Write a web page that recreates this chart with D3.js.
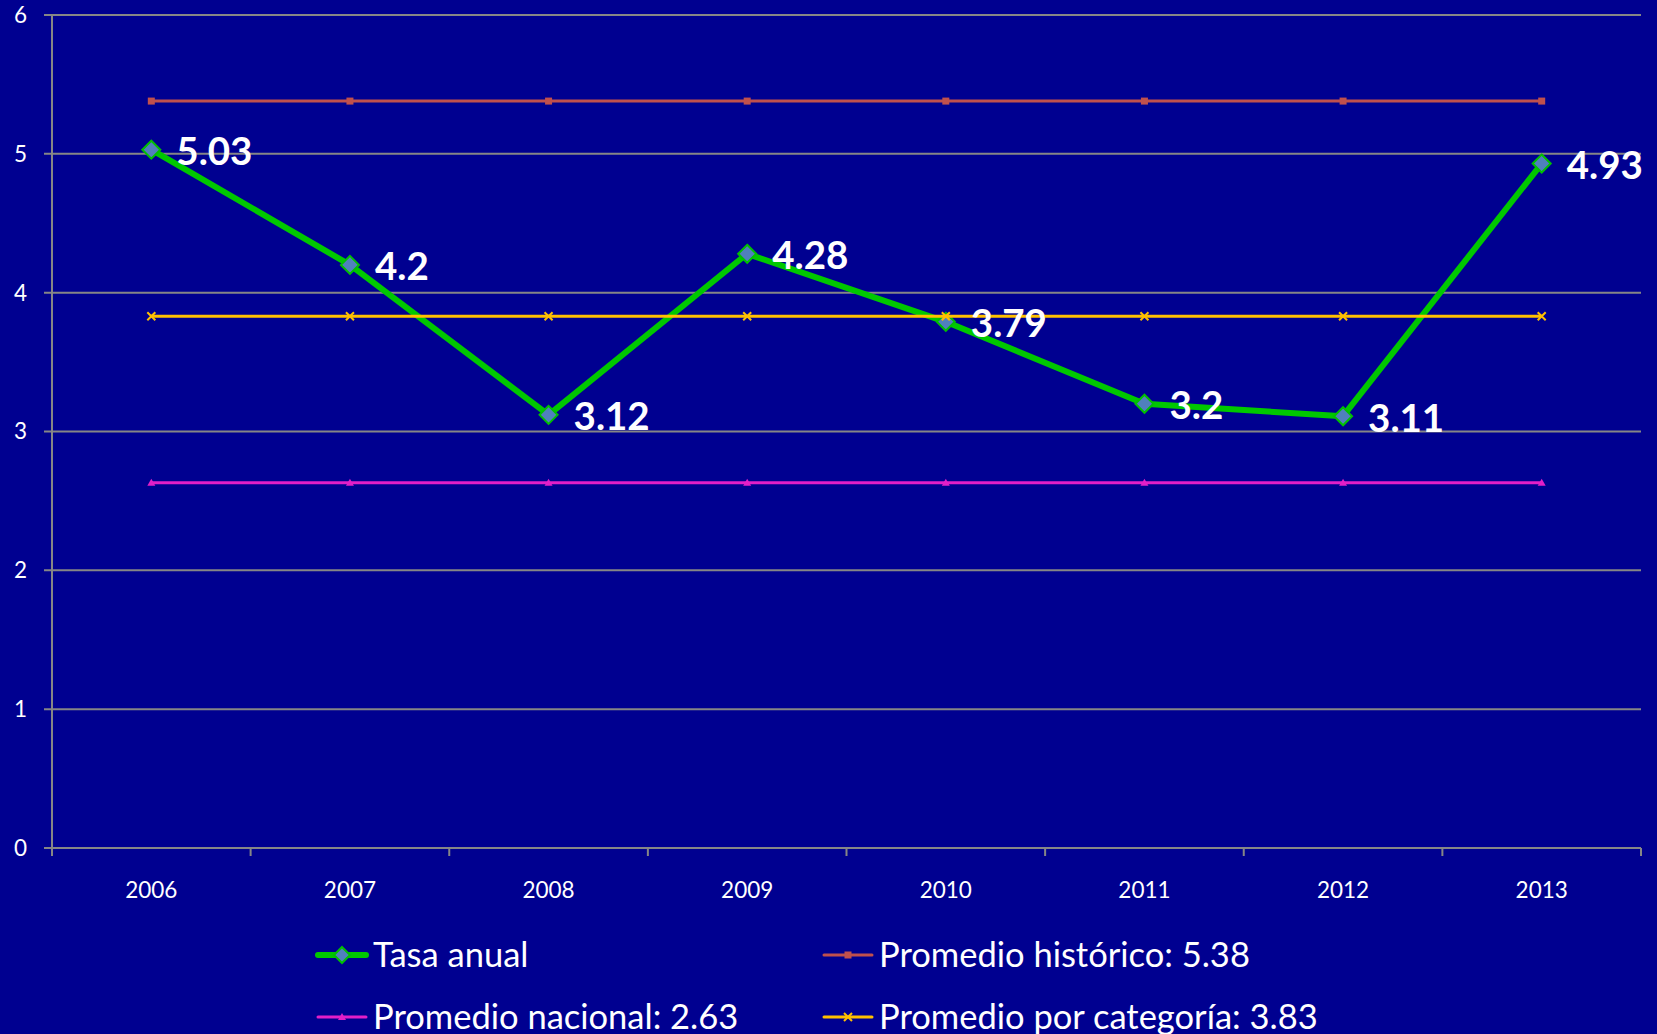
<!DOCTYPE html>
<html>
<head>
<meta charset="utf-8">
<script src="https://cdn.jsdelivr.net/npm/d3@7"></script>
<style>
  body { margin: 0; background: #000090; }
  svg { display: block; }
  text { font-family: Lato, "Open Sans", sans-serif; fill: #fff; }
</style>
</head>
<body>
<svg id="chart" width="1657" height="1034"></svg>
<script>
var years = ["2006", "2007", "2008", "2009", "2010", "2011", "2012", "2013"];
var tasaAnual = [5.03, 4.2, 3.12, 4.28, 3.79, 3.2, 3.11, 4.93];
var promedioHistorico = 5.38;
var promedioNacional = 2.63;
var promedioCategoria = 3.83;
var yTicks = [0, 1, 2, 3, 4, 5, 6];

var svg = d3.select("#chart");
var margin = {left: 52, right: 16, top: 15, bottom: 186};
var width = 1657, height = 1034;

var x = d3.scaleBand().domain(years).range([margin.left, width - margin.right]);
var y = d3.scaleLinear().domain([0, 6]).range([height - margin.bottom, margin.top]);
var cx = function(d){ return x(d) + x.bandwidth() / 2; };

// gridlines
svg.append("g").selectAll("line")
  .data(yTicks)
  .enter().append("line")
  .attr("x1", margin.left - 8).attr("x2", width - margin.right)
  .attr("y1", function(d){ return y(d); }).attr("y2", function(d){ return y(d); })
  .attr("stroke", "#868686").attr("stroke-width", 2);

// y axis line
svg.append("line")
  .attr("x1", margin.left).attr("x2", margin.left)
  .attr("y1", y(6)).attr("y2", y(0) + 8)
  .attr("stroke", "#868686").attr("stroke-width", 2);

// x ticks at band boundaries
svg.append("g").selectAll("line")
  .data(years)
  .enter().append("line")
  .attr("x1", function(d){ return x(d) + x.bandwidth(); })
  .attr("x2", function(d){ return x(d) + x.bandwidth(); })
  .attr("y1", y(0)).attr("y2", y(0) + 8)
  .attr("stroke", "#868686").attr("stroke-width", 2);

// y labels
svg.append("g").selectAll("text")
  .data(yTicks)
  .enter().append("text")
  .attr("x", 27).attr("y", function(d){ return y(d); })
  .attr("dy", "0.35em").attr("text-anchor", "end")
  .style("font-size", "22.5px")
  .text(function(d){ return d; });

// x labels
svg.append("g").selectAll("text")
  .data(years)
  .enter().append("text")
  .attr("x", cx).attr("y", y(0) + 42)
  .attr("dy", "0.35em").attr("text-anchor", "middle")
  .style("font-size", "22.5px")
  .text(function(d){ return d; });

var line = d3.line().x(function(d){ return cx(d.year); }).y(function(d){ return y(d.value); });

// tasa anual
var tasaData = years.map(function(yr, i){ return {year: yr, value: tasaAnual[i]}; });
svg.append("path").datum(tasaData)
  .attr("d", line).attr("fill", "none")
  .attr("stroke", "#00c800").attr("stroke-width", 6).attr("stroke-linejoin", "round");

var diamond = function(s){ return "M0," + (-s) + "L" + s + ",0L0," + s + "L" + (-s) + ",0Z"; };

svg.append("g").selectAll("path")
  .data(tasaData)
  .enter().append("path")
  .attr("transform", function(d){ return "translate(" + cx(d.year) + "," + y(d.value) + ")"; })
  .attr("d", diamond(9))
  .attr("fill", "#5080bd").attr("stroke", "#00c000").attr("stroke-width", 2);

// average lines
var averages = [
  {value: promedioHistorico, color: "#c0504d", marker: "square"},
  {value: promedioNacional, color: "#e21fc8", marker: "triangle"},
  {value: promedioCategoria, color: "#ffc000", marker: "x"}
];

var drawMarker = function(g, type, color){
  if (type == "square") {
    g.append("rect").attr("x", -3.5).attr("y", -3.5).attr("width", 7).attr("height", 7).attr("fill", color);
  } else if (type == "triangle") {
    g.append("path").attr("d", "M0,-4L4,3L-4,3Z").attr("fill", color);
  } else {
    g.append("path").attr("d", "M-4,-4L4,4M4,-4L-4,4").attr("stroke", color).attr("stroke-width", 2);
  }
};

averages.forEach(function(a){
  var data = years.map(function(yr){ return {year: yr, value: a.value}; });
  svg.append("path").datum(data)
    .attr("d", line).attr("fill", "none")
    .attr("stroke", a.color).attr("stroke-width", 3);
  data.forEach(function(d){
    var g = svg.append("g").attr("transform", "translate(" + cx(d.year) + "," + y(d.value) + ")");
    drawMarker(g, a.marker, a.color);
  });
});

// data labels
svg.append("g").selectAll("text")
  .data(tasaData)
  .enter().append("text")
  .attr("x", function(d){ return cx(d.year) + 25; })
  .attr("y", function(d){ return y(d.value) + 2; })
  .attr("dy", "0.35em")
  .style("font-size", "38.5px").style("font-weight", "bold")
  .text(function(d){ return d.value; });

// legend
var legend = [
  {label: "Tasa anual", color: "#00c800", marker: "diamond", x: 318, y: 955},
  {label: "Promedio histórico: 5.38", color: "#c0504d", marker: "square", x: 824, y: 955},
  {label: "Promedio nacional: 2.63", color: "#e21fc8", marker: "triangle", x: 318, y: 1017},
  {label: "Promedio por categoría: 3.83", color: "#ffc000", marker: "x", x: 824, y: 1017}
];

legend.forEach(function(l){
  var g = svg.append("g").attr("transform", "translate(" + l.x + "," + l.y + ")");
  g.append("line").attr("x1", 0).attr("x2", 48).attr("y1", 0).attr("y2", 0)
    .attr("stroke", l.color).attr("stroke-width", l.marker == "diamond" ? 6 : 3).attr("stroke-linecap", "round");
  var m = g.append("g").attr("transform", "translate(24,0)");
  if (l.marker == "diamond") {
    m.append("path").attr("d", diamond(8)).attr("fill", "#5080bd").attr("stroke", "#00c000").attr("stroke-width", 2);
  } else {
    drawMarker(m, l.marker, l.color);
  }
  g.append("text").attr("x", 55).attr("y", 0).attr("dy", "0.35em")
    .style("font-size", "34.5px").text(l.label);
});
</script>
</body>
</html>
